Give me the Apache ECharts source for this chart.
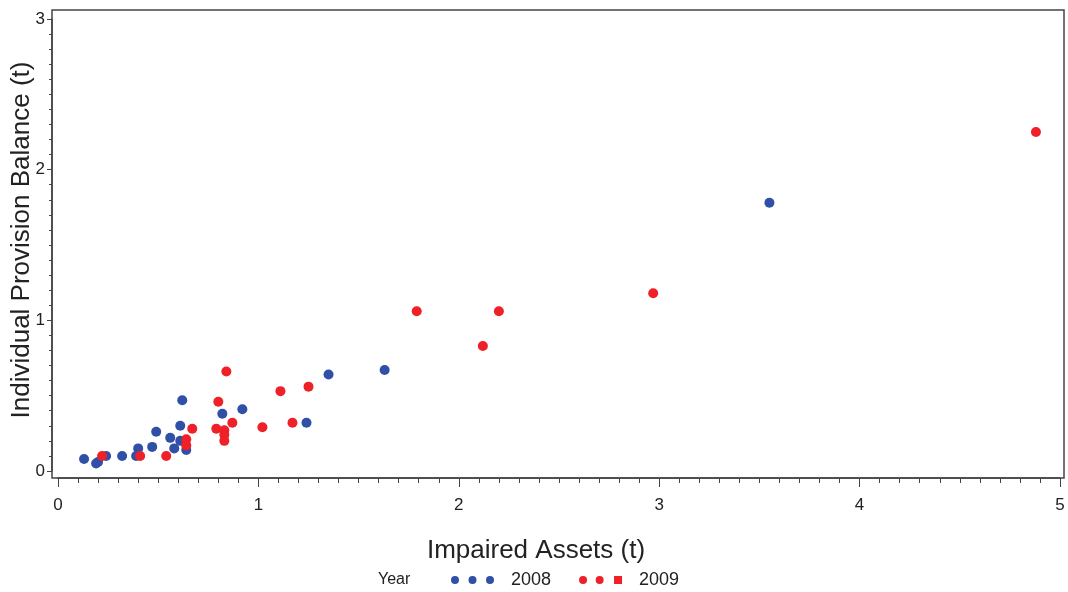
<!DOCTYPE html>
<html>
<head>
<meta charset="utf-8">
<script src="https://cdn.jsdelivr.net/npm/echarts@6/dist/echarts.min.js"></script>
<style>html,body{margin:0;padding:0;background:#fff}#c{width:1068px;height:592px}</style>
</head>
<body>
<div id="c"></div>
<script>
// Impaired Assets (t), Individual Provision Balance (t)
var assets2008 = [0.13, 0.19, 0.20, 0.24, 0.32, 0.39, 0.40, 0.47, 0.49, 0.56, 0.58, 0.61, 0.61, 0.62, 0.64, 0.82, 0.92, 1.24, 1.35, 1.63, 3.55];
var provision2008 = [0.08, 0.05, 0.06, 0.10, 0.10, 0.10, 0.15, 0.16, 0.26, 0.22, 0.15, 0.30, 0.20, 0.47, 0.14, 0.38, 0.41, 0.32, 0.64, 0.67, 1.78];
var assets2009 = [0.22, 0.41, 0.54, 0.64, 0.64, 0.67, 0.79, 0.80, 0.83, 0.83, 0.83, 0.84, 0.87, 1.02, 1.11, 1.17, 1.25, 1.79, 2.12, 2.20, 2.97, 4.88];
var provision2009 = [0.10, 0.10, 0.10, 0.21, 0.17, 0.28, 0.28, 0.46, 0.27, 0.24, 0.20, 0.66, 0.32, 0.29, 0.53, 0.32, 0.56, 1.06, 0.83, 1.06, 1.18, 2.25];
var years = ['2008', '2009'];
var xTicks = [0, 1, 2, 3, 4, 5];
var yTicks = [0, 1, 2, 3];

function pairs(xs, ys) { return xs.map(function (x, i) { return [x, ys[i]]; }); }

var BLUE = '#3050a8', RED = '#ee2028';
var FONT = '"Liberation Sans", Arial, sans-serif';

var chart = echarts.init(document.getElementById('c'), null, { renderer: 'canvas' });
chart.setOption({
  backgroundColor: '#ffffff',
  animation: false,
  grid: [
    { left: 52, top: 10, width: 1012, height: 468, show: true, borderColor: '#444', borderWidth: 1.5, backgroundColor: 'transparent', containLabel: false, outerBoundsMode: 'none' },
    { left: 58, top: 19, width: 1002, height: 452, containLabel: false, outerBoundsMode: 'none' }
  ],
  xAxis: [
    { gridIndex: 0, type: 'value', show: false, min: 0, max: 1 },
    {
      gridIndex: 1, type: 'value', position: 'bottom', min: xTicks[0], max: xTicks[xTicks.length - 1], interval: 1, offset: 7,
      axisLine: { show: true, onZero: false, lineStyle: { color: '#444', width: 1.5 } },
      axisTick: { show: true, inside: false, length: 9, lineStyle: { color: '#444', width: 1 } },
      minorTick: { show: true, splitNumber: 10, length: 5, lineStyle: { color: '#444', width: 1 } },
      splitLine: { show: false }, minorSplitLine: { show: false },
      axisLabel: { margin: 19, fontSize: 17, color: '#222', fontFamily: FONT }
    }
  ],
  yAxis: [
    { gridIndex: 0, type: 'value', show: false, min: 0, max: 1 },
    {
      gridIndex: 1, type: 'value', position: 'left', min: yTicks[0], max: yTicks[yTicks.length - 1], interval: 1, offset: 6,
      axisLine: { show: true, onZero: false, lineStyle: { color: '#444', width: 1.5 } },
      axisTick: { show: true, inside: false, length: 5, lineStyle: { color: '#444', width: 1 } },
      minorTick: { show: true, splitNumber: 10, length: 3, lineStyle: { color: '#444', width: 1 } },
      splitLine: { show: false }, minorSplitLine: { show: false },
      axisLabel: { margin: 7, fontSize: 17, color: '#222', fontFamily: FONT }
    }
  ],
  legend: {
    left: 446, top: 566, itemWidth: 43, itemHeight: 8, itemGap: 28,
    textStyle: { fontSize: 18, color: '#222', fontFamily: FONT, padding: [0, 0, 0, 12] },
    data: [
      { name: years[0], icon: 'path://M0,4a4,4 0 1,0 8,0a4,4 0 1,0 -8,0zM17.5,4a4,4 0 1,0 8,0a4,4 0 1,0 -8,0zM35,4a4,4 0 1,0 8,0a4,4 0 1,0 -8,0z' },
      { name: years[1], icon: 'path://M0,4a4,4 0 1,0 8,0a4,4 0 1,0 -8,0zM16.6,4a4,4 0 1,0 8,0a4,4 0 1,0 -8,0zM35,0h8v8h-8z' }
    ]
  },
  graphic: [
    { type: 'text', x: 536, y: 551, style: { text: 'Impaired Assets (t)', font: '26px ' + FONT, fill: '#222', textAlign: 'center', textVerticalAlign: 'middle' } },
    { type: 'text', x: 22, y: 240, rotation: Math.PI / 2, style: { text: 'Individual Provision Balance (t)', font: '26px ' + FONT, fill: '#222', textAlign: 'center', textVerticalAlign: 'middle' } },
    { type: 'text', x: 378, y: 580, style: { text: 'Year', font: '16px ' + FONT, fill: '#222', textAlign: 'left', textVerticalAlign: 'middle' } }
  ],
  series: [
    { name: years[0], type: 'scatter', xAxisIndex: 1, yAxisIndex: 1, symbol: 'circle', symbolSize: 10, itemStyle: { color: BLUE, opacity: 1 }, data: pairs(assets2008, provision2008) },
    { name: years[1], type: 'scatter', xAxisIndex: 1, yAxisIndex: 1, symbol: 'circle', symbolSize: 10, itemStyle: { color: RED, opacity: 1 }, data: pairs(assets2009, provision2009) }
  ]
});
</script>
</body>
</html>
